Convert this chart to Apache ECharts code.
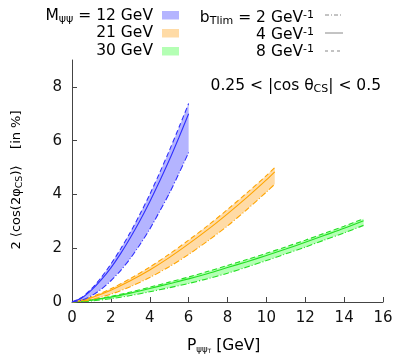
<!DOCTYPE html>
<html><head><meta charset="utf-8">
<script src="https://cdn.jsdelivr.net/npm/echarts@6/dist/echarts.min.js"></script>
<style>html,body{margin:0;padding:0;background:#fff}#c{width:398px;height:355px}</style>
</head><body><div id="c"></div>
<script>
// ---- data ----
const xTicks = [0, 2, 4, 6, 8, 10, 12, 14, 16];
const yTicks = [0, 2, 4, 6, 8];

// M = 12 GeV (blue)
const xBlue   = [0, 0.5, 1, 1.5, 2, 2.5, 3, 3.5, 4, 4.5, 5, 5.5, 6];
const blueB8  = [0, 0.17, 0.49, 0.91, 1.41, 1.97, 2.59, 3.27, 4.0, 4.79, 5.62, 6.49, 7.38];
const blueB4  = [0, 0.15, 0.44, 0.82, 1.27, 1.80, 2.39, 3.03, 3.73, 4.48, 5.27, 6.12, 7.0];
const blueB2  = [0, 0.07, 0.23, 0.47, 0.79, 1.17, 1.62, 2.14, 2.71, 3.36, 4.03, 4.78, 5.56];

// M = 21 GeV (orange)
const xOrange  = [0, 0.5, 1, 2, 3, 4, 5, 6, 7, 8, 9, 10, 10.43];
const orangeB8 = [0, 0.07, 0.19, 0.49, 0.87, 1.30, 1.78, 2.30, 2.85, 3.44, 4.06, 4.70, 5.0];
const orangeB4 = [0, 0.06, 0.16, 0.44, 0.79, 1.19, 1.65, 2.16, 2.70, 3.28, 3.89, 4.54, 4.84];
const orangeB2 = [0, 0.03, 0.09, 0.29, 0.57, 0.91, 1.31, 1.77, 2.28, 2.83, 3.44, 4.09, 4.38];

// M = 30 GeV (green)
const xGreen  = [0, 0.5, 1, 2, 3, 4, 5, 6, 7, 8, 9, 10, 11, 12, 13, 14, 15];
const greenB8 = [0, 0.03, 0.08, 0.21, 0.37, 0.55, 0.74, 0.93, 1.14, 1.36, 1.58, 1.81, 2.05, 2.30, 2.56, 2.82, 3.10];
const greenB4 = [0, 0.03, 0.07, 0.18, 0.33, 0.50, 0.68, 0.86, 1.06, 1.28, 1.50, 1.73, 1.97, 2.22, 2.48, 2.74, 3.02];
const greenB2 = [0, 0.015, 0.04, 0.12, 0.24, 0.38, 0.53, 0.69, 0.87, 1.07, 1.30, 1.54, 1.79, 2.04, 2.31, 2.57, 2.85];

// ---- helpers ----
const pairs = (xs, ys) => xs.map((x, i) => [x, ys[i]]);
const FONT = 'DejaVu Sans';

function band(xs, top, bot, fill) {
  return {
    type: 'custom', z: 1, silent: true,
    data: [[xs[0], bot[0]]],
    renderItem: function (params, api) {
      const pts = [];
      for (let i = 0; i < xs.length; i++) pts.push(api.coord([xs[i], top[i]]));
      for (let i = xs.length - 1; i >= 0; i--) pts.push(api.coord([xs[i], bot[i]]));
      return { type: 'polygon', shape: { points: pts }, style: { fill: fill, stroke: null } };
    }
  };
}
function line(xs, ys, color, type) {
  return {
    type: 'line', z: 3, data: pairs(xs, ys), showSymbol: false, smooth: 0.3, silent: true,
    lineStyle: { color: color, width: 1.1, type: type }
  };
}
const DASH = [5, 3];
const DASHDOT = [6, 2, 1, 2];

const cBlue = '#3030ff', fBlue = '#b4b4ff';
const cOr = '#ffa500', fOr = '#ffdba6';
const cGr = '#22e022', fGr = '#b4ffb4';

const chart = echarts.init(document.getElementById('c'));
const rich = {
  n: { fontFamily: FONT, fontSize: 15.5, color: '#111', lineHeight: 17 },
  sub: { fontFamily: FONT, fontSize: 11, color: '#111', verticalAlign: 'bottom', lineHeight: 12 },
  sup: { fontFamily: FONT, fontSize: 11, color: '#111', verticalAlign: 'top', lineHeight: 10 }
};
const richX = {
  n: { fontFamily: FONT, fontSize: 15.5, color: '#111', lineHeight: 17 },
  sub: { fontFamily: FONT, fontSize: 8.5, color: '#111', verticalAlign: 'bottom', lineHeight: 10 },
  subsub: { fontFamily: FONT, fontSize: 6, color: '#111', verticalAlign: 'bottom', lineHeight: 9 }
};
const richY = {
  n: { fontFamily: FONT, fontSize: 13, color: '#111', lineHeight: 16 },
  sub: { fontFamily: FONT, fontSize: 9.5, color: '#111', verticalAlign: 'bottom', lineHeight: 11 }
};
function txt(x, y, text, r, align) {
  return { type: 'text', x: x, y: y, style: { rich: r, text: text, align: align || 'right', verticalAlign: 'middle' } };
}

chart.setOption({
  animation: false,
  grid: { left: 72, right: 15, top: 60, bottom: 53 },
  xAxis: {
    type: 'value', min: 0, max: 16, interval: 2,
    axisLine: { lineStyle: { color: '#444', width: 1 } },
    axisTick: { inside: true, length: 5, lineStyle: { color: '#444' }, customValues: xTicks },
    axisLabel: { fontFamily: FONT, fontSize: 15, color: '#111', margin: 9, customValues: xTicks },
    splitLine: { show: false }
  },
  yAxis: {
    type: 'value', min: 0, max: 9, interval: 2,
    axisLine: { show: true, lineStyle: { color: '#444', width: 1 } },
    axisTick: { show: true, inside: true, length: 5, lineStyle: { color: '#444' }, customValues: yTicks },
    axisLabel: { fontFamily: FONT, fontSize: 15, color: '#111', margin: 10, customValues: yTicks },
    splitLine: { show: false }
  },
  graphic: [
    // legend: masses
    txt(153, 16, '{n|M}{sub|ψψ}{n| = 12 GeV}', rich),
    txt(153, 33, '{n|21 GeV}', rich),
    txt(153, 51, '{n|30 GeV}', rich),
    { type: 'rect', shape: { x: 162, y: 11, width: 17, height: 8.5 }, style: { fill: fBlue } },
    { type: 'rect', shape: { x: 162, y: 29, width: 17, height: 8.5 }, style: { fill: fOr } },
    { type: 'rect', shape: { x: 162, y: 47, width: 17, height: 8.5 }, style: { fill: fGr } },
    // legend: bTlim
    txt(314, 18, '{n|b}{sub|Tlim}{n| = 2 GeV}{sup|-1}', rich),
    txt(314, 35, '{n|4 GeV}{sup|-1}', rich),
    txt(314, 52, '{n|8 GeV}{sup|-1}', rich),
    { type: 'line', shape: { x1: 325, y1: 15, x2: 343, y2: 15 }, style: { stroke: '#888', lineWidth: 1, lineDash: [4, 2, 1, 2] } },
    { type: 'line', shape: { x1: 325, y1: 33, x2: 343, y2: 33 }, style: { stroke: '#888', lineWidth: 1 } },
    { type: 'line', shape: { x1: 325, y1: 51, x2: 343, y2: 51 }, style: { stroke: '#888', lineWidth: 1, lineDash: [3, 3] } },
    // annotation
    txt(381, 86, '{n|0.25 < |cos θ}{sub|CS}{n|| < 0.5}', rich),
    // x-axis title
    txt(187, 346, '{n|P}{sub|ψψ}{subsub|T}{n| [GeV]}', richX, 'left'),
    // y-axis title
    { type: 'text', x: 17, y: 180, rotation: Math.PI / 2,
      style: { rich: richY, text: '{n|2 ⟨cos(2φ}{sub|CS}{n|)⟩    [in %]}', align: 'center', verticalAlign: 'middle' } }
  ],
  series: [
    band(xGreen, greenB8, greenB2, fGr),
    band(xOrange, orangeB8, orangeB2, fOr),
    band(xBlue, blueB8, blueB2, fBlue),
    line(xGreen, greenB2, cGr, DASHDOT),
    line(xGreen, greenB4, cGr, 'solid'),
    line(xGreen, greenB8, cGr, DASH),
    line(xOrange, orangeB2, cOr, DASHDOT),
    line(xOrange, orangeB4, cOr, 'solid'),
    line(xOrange, orangeB8, cOr, DASH),
    line(xBlue, blueB2, cBlue, DASHDOT),
    line(xBlue, blueB4, cBlue, 'solid'),
    line(xBlue, blueB8, cBlue, DASH)
  ]
});
</script>
</body></html>
